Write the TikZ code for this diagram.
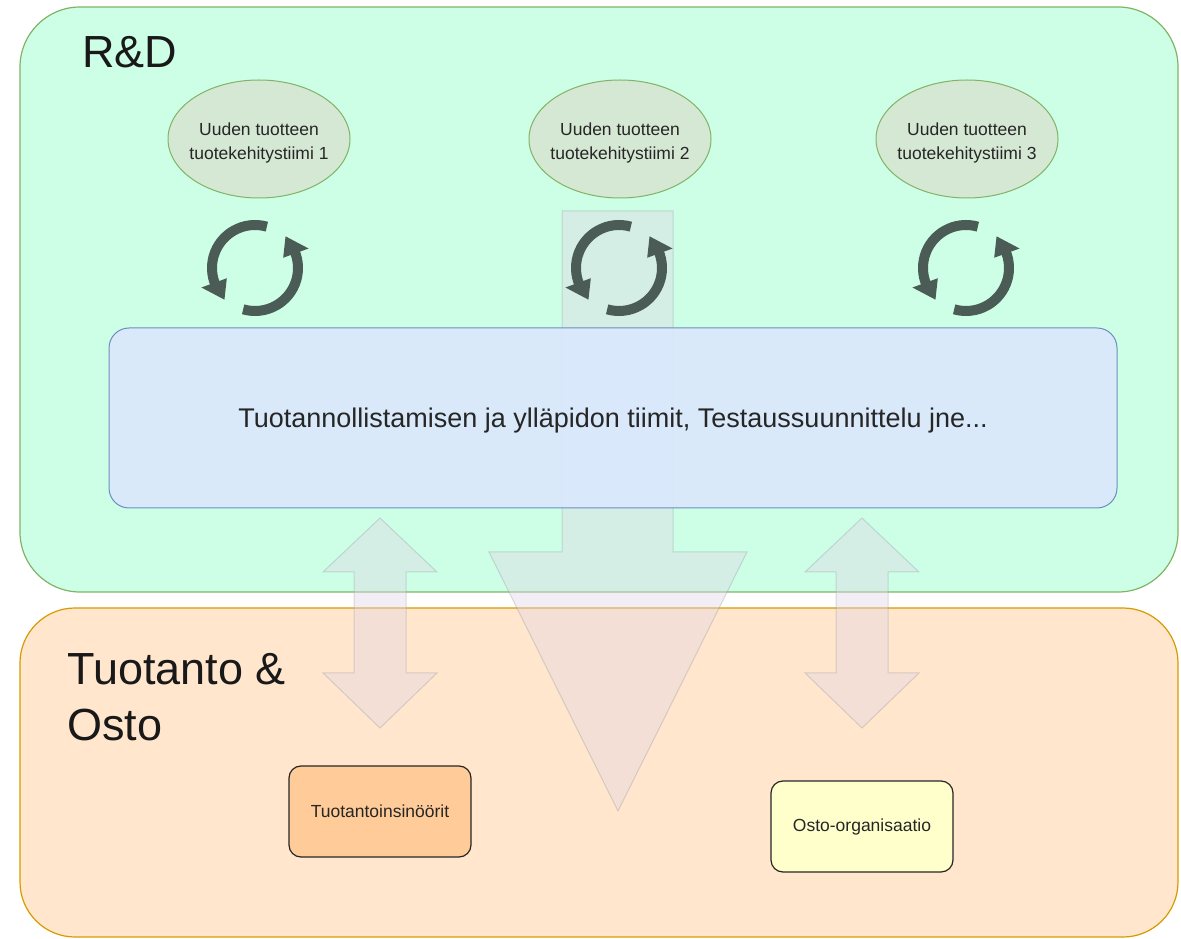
\documentclass[tikz,border=0pt]{standalone}
\usepackage{fontspec}
\setmainfont{Liberation Sans}
\usetikzlibrary{arrows.meta,shapes.geometric}
\definecolor{rdfill}{HTML}{CCFFE6}
\definecolor{rdline}{HTML}{82B366}
\definecolor{prodfill}{HTML}{FFE6CC}
\definecolor{prodline}{HTML}{D79B00}
\definecolor{ellfill}{HTML}{D5E8D4}
\definecolor{bluefill}{HTML}{DAE8FC}
\definecolor{blueline}{HTML}{6C8EBF}
\definecolor{arrfill}{HTML}{E1D5E7}
\definecolor{arrline}{HTML}{8A8F9A}
\definecolor{iconcol}{HTML}{4B5B55}
\definecolor{engfill}{HTML}{FFCC99}
\definecolor{buyfill}{HTML}{FFFFCC}
\tikzset{
  area/.style={line width=1.2pt},
  team/.style={ellipse, draw=rdline, fill=ellfill, line width=1pt, minimum width=182pt, minimum height=118pt, inner sep=0pt},
  teamtext/.style={align=center, font=\fontsize{17.5}{24}\selectfont, text=black!85, inner sep=0pt},
  bigarrow/.style={fill=arrfill, fill opacity=0.4, draw=arrline, draw opacity=0.3, line width=1pt},
  cycarc/.style={draw=iconcol, line width=10pt},
  cychead/.style={fill=iconcol},
  unit/.style={draw=black!85, rounded corners=12pt, line width=1.2pt, minimum width=182pt, minimum height=91pt, font=\fontsize{17.5}{20}\selectfont, text=black!85},
}
\begin{document}
\begin{tikzpicture}[x=1pt,y=1pt]
\useasboundingbox (0,0) rectangle (1181,938);
% areas
\draw[area, draw=rdline, fill=rdfill, rounded corners=60pt] (20,346) rectangle (1178,931);
\draw[area, draw=prodline, fill=prodfill, rounded corners=55pt] (20,1) rectangle (1178,330);
\node[anchor=base west, font=\fontsize{45}{52}\selectfont, text=black!90, inner sep=0pt] (rd) at (82,870) {R\&D};
\node[anchor=base west, font=\fontsize{45}{55}\selectfont, text=black!90, inner sep=0pt, align=left] (prod) at (67,198) {Tuotanto \&\\Osto};
% teams
\node[team] (t1) at (259,799) {};
\node[team] (t2) at (620,799) {};
\node[team] (t3) at (967,799) {};
\node[teamtext] (t1l) at (259,795) {Uuden tuotteen\\tuotekehitystiimi 1};
\node[teamtext] (t2l) at (620,795) {Uuden tuotteen\\tuotekehitystiimi 2};
\node[teamtext] (t3l) at (967,795) {Uuden tuotteen\\tuotekehitystiimi 3};
% big down arrow
\draw[bigarrow] (562,727) -- (673,727) -- (673,386) -- (747,386) -- (618,127) -- (489,386) -- (562,386) -- cycle;
% double arrows
\foreach \cx in {380,862}{
  \draw[bigarrow] (\cx,420) -- (\cx+57,366) -- (\cx+26,366) -- (\cx+26,265) -- (\cx+57,265) -- (\cx,210) -- (\cx-57,265) -- (\cx-26,265) -- (\cx-26,366) -- (\cx-57,366) -- cycle;
}
% cycle icons
\foreach \cx/\nm in {255/c1, 619/c2, 966/c3}{
  \coordinate (\nm) at (\cx,670);
}
\foreach \nm in {c1,c2,c3}{
  \draw[cycarc] ([shift={(74:43)}]\nm) arc[start angle=74, end angle=202, radius=43];
  \fill[cychead] ([shift={(200:30)}]\nm) -- ([shift={(200:57)}]\nm) -- ([shift={(226:44)}]\nm) -- cycle;
  \draw[cycarc] ([shift={(254:43)}]\nm) arc[start angle=254, end angle=382, radius=43];
  \fill[cychead] ([shift={(20:30)}]\nm) -- ([shift={(20:57)}]\nm) -- ([shift={(46:44)}]\nm) -- cycle;
}
% blue box
\node[draw=blueline, fill=bluefill, fill opacity=0.93, line width=1pt, rounded corners=20pt, minimum width=1008pt, minimum height=180pt, inner sep=0pt] (maint) at (613,520) {};
\node[anchor=base, font=\fontsize{27}{30}\selectfont, text=black!85, inner sep=0pt] (mtext) at (613,510) {Tuotannollistamisen ja ylläpidon tiimit, Testaussuunnittelu jne...};
% units
\node[unit, fill=engfill] (eng) at (380,126.5) {Tuotantoinsinöörit};
\node[unit, fill=buyfill] (buy) at (862,111.5) {Osto-organisaatio};
\end{tikzpicture}
\end{document}
